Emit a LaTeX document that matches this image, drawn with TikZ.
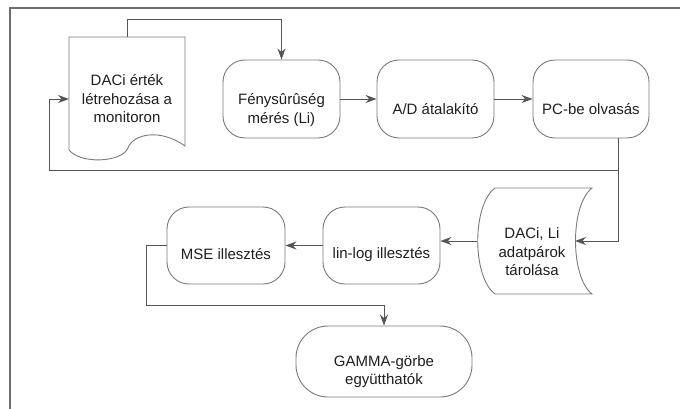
\documentclass[tikz,border=0pt]{standalone}
\usepackage{fontspec}
\setmainfont{Liberation Sans}
\usetikzlibrary{arrows.meta}
\definecolor{boxline}{HTML}{7A7A7A}
\definecolor{wire}{HTML}{555555}
\definecolor{framec}{HTML}{6E6E6E}
\definecolor{txt}{HTML}{1E1E1E}
\tikzset{
  proc/.style={draw=boxline, line width=0.9pt, rounded corners=22pt, inner sep=0pt},
  shapeline/.style={draw=boxline, line width=0.9pt},
  lbl/.style={align=center, text=txt, font=\fontsize{15}{18.5}\selectfont, inner sep=0pt},
  wireline/.style={draw=wire, line width=0.9pt},
  flow/.style={wireline, -{Stealth[length=11pt,width=8pt]}},
}
\begin{document}
\begin{tikzpicture}[x=1pt,y=-1pt]
\useasboundingbox (0,0) rectangle (680,409);

% outer frame (top and left edges)
\draw[framec, line width=1.8pt] (680,8) -- (10,8) -- (10,409);

% document shape with wavy bottom
\draw[shapeline] (69,150) -- (69,37) -- (185,37) -- (185,146)
  .. controls (160,128) and (133,134) .. (128,148)
  .. controls (121,163) and (80,164) .. (69,150);
\node[lbl] (doc) at (127,99) {DACi érték\\létrehozása a\\monitoron};
\coordinate (doctop) at (127,37);
\coordinate (docleft) at (69,99);

% process boxes, first row
\node[proc, minimum width=117pt, minimum height=78pt] (feny) at (281.5,99) {};
\node[proc, minimum width=117pt, minimum height=78pt] (ad) at (435.5,99) {};
\node[proc, minimum width=116pt, minimum height=78pt] (pc) at (591,99) {};
\node[lbl] (fenyT) at ([yshift=-11pt]feny.center) {Fénysûrûség\\mérés (Li)};
\node[lbl] (adT) at ([yshift=-10pt]ad.center) {A/D átalakító};
\node[lbl] (pcT) at ([yshift=-10pt]pc.center) {PC-be olvasás};

% stored data shape
\draw[shapeline] (495,188) -- (592,188)
  .. controls (570,205) and (570,277) .. (592,294)
  -- (495,294)
  .. controls (472,277) and (472,205) .. (495,188);
\node[lbl] (store) at (532,252) {DACi, Li\\adatpárok\\tárolása};
\coordinate (storeleft) at (477,241);
\coordinate (storeright) at (575,241);

% second row
\node[proc, minimum width=117pt, minimum height=77pt] (linlog) at (381.5,245.5) {};
\node[proc, minimum width=118pt, minimum height=77pt] (mse) at (226,245.5) {};
\node[lbl] (linlogT) at ([yshift=-9pt]linlog.center) {lin-log illesztés};
\node[lbl] (mseT) at ([yshift=-9pt]mse.center) {MSE illesztés};

% terminal box
\node[proc, rounded corners=32pt, minimum width=176pt, minimum height=71pt] (gamma) at (384,361.5) {};
\node[lbl] (gammaT) at ([yshift=-10pt]gamma.center) {GAMMA-görbe\\együtthatók};

% connectors
\draw[flow] (doctop) -- (127,19) -| (feny.north);
\draw[flow] (feny.east) -- (ad.west);
\draw[flow] (ad.east) -- (pc.west);
\draw[flow] (pc.south -| 618,0) |- (storeright);
\draw[flow] (618,170) -- (49,170) |- (docleft);
\draw[flow] (storeleft) -- (storeleft -| linlog.east);
\draw[flow] (linlog.west) -- (mse.east);
\draw[flow] (mse.west) -- (146,245.5) |- (384,305) -- (gamma.north);
\end{tikzpicture}
\end{document}
